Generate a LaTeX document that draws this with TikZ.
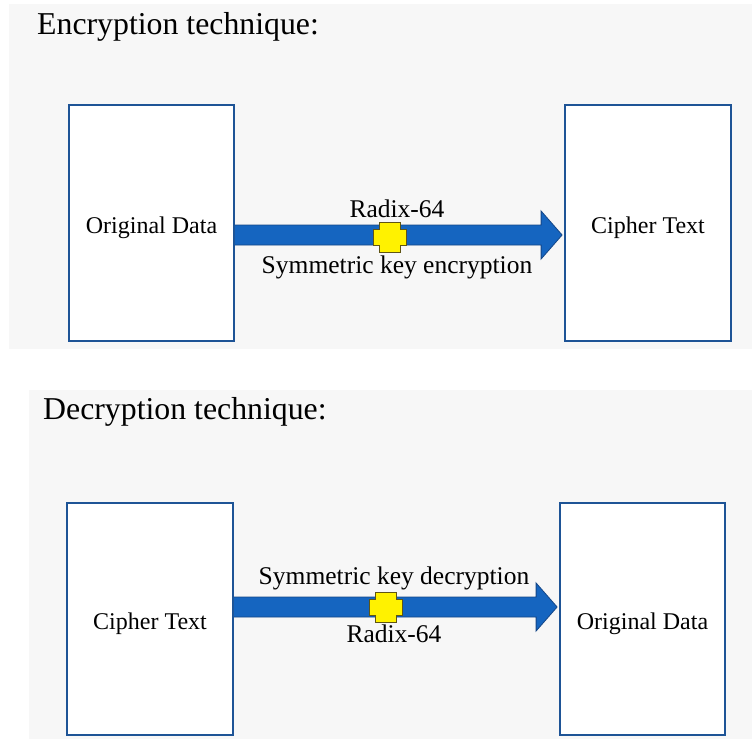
\documentclass[tikz,border=0pt]{standalone}
\usepackage{fontspec}
\setmainfont{Liberation Serif}
\definecolor{panelbg}{RGB}{247,247,247}
\definecolor{boxline}{RGB}{30,84,150}
\definecolor{arrowfill}{RGB}{21,101,192}
\definecolor{arrowedge}{RGB}{20,70,135}
\definecolor{plusedge}{RGB}{95,85,20}
\begin{document}
\begin{tikzpicture}[x=1pt,y=-1pt,
  databox/.style={draw=boxline,line width=1.8pt,fill=white,inner sep=0pt,
    text height=24pt,text depth=3pt,font=\fontsize{24}{28}\selectfont},
  title/.style={anchor=base west,inner sep=0pt,font=\fontsize{31.8}{36}\selectfont},
  lab/.style={anchor=base,inner sep=0pt,font=\fontsize{25.5}{30}\selectfont},
  bigarrow/.style={fill=arrowfill,draw=arrowedge,line width=0.8pt,line join=miter},
  plus/.style={fill=yellow,draw=plusedge,line width=1pt}]
\useasboundingbox (0,0) rectangle (752,739);
% panels
\fill[panelbg] (9,4) rectangle (752,349);
\fill[panelbg] (29,390) rectangle (752,739);
% titles
\node[title] (t1) at (37,34) {Encryption technique:};
\node[title] (t2) at (43,419) {Decryption technique:};
% boxes
\node[databox,minimum width=165pt,minimum height=236pt] (b1) at (151.5,223) {Original Data};
\node[databox,minimum width=166pt,minimum height=236pt] (b2) at (648,223) {Cipher Text};
\node[databox,minimum width=166pt,minimum height=232pt] (b3) at (150,619) {Cipher Text};
\node[databox,minimum width=165pt,minimum height=232pt] (b4) at (642.5,619) {Original Data};
% arrow 1
\coordinate (a1s) at (b1.east |- 0,235);
\coordinate (a1t) at ([xshift=-2pt]b2.west |- 0,235);
\draw[bigarrow] ([yshift=-10pt]a1s) -- ([xshift=-21pt,yshift=-10pt]a1t) -- ([xshift=-21pt,yshift=-24pt]a1t)
  -- (a1t) -- ([xshift=-21pt,yshift=24pt]a1t) -- ([xshift=-21pt,yshift=10pt]a1t) -- ([yshift=10pt]a1s);
% arrow 2
\coordinate (a2s) at (b3.east |- 0,607);
\coordinate (a2t) at ([xshift=-2pt]b4.west |- 0,607);
\draw[bigarrow] ([yshift=-10pt]a2s) -- ([xshift=-21pt,yshift=-10pt]a2t) -- ([xshift=-21pt,yshift=-24pt]a2t)
  -- (a2t) -- ([xshift=-21pt,yshift=24pt]a2t) -- ([xshift=-21pt,yshift=10pt]a2t) -- ([yshift=10pt]a2s);
% plus signs
\coordinate (p1) at (390,237);
\coordinate (p2) at (386,607);
\foreach \p in {p1,p2}{
  \draw[plus] ([shift={(-10.5,-15)}]\p) -- ([shift={(10.5,-15)}]\p) -- ([shift={(10.5,-8)}]\p)
    -- ([shift={(16.5,-8)}]\p) -- ([shift={(16.5,8)}]\p) -- ([shift={(10.5,8)}]\p)
    -- ([shift={(10.5,15)}]\p) -- ([shift={(-10.5,15)}]\p) -- ([shift={(-10.5,8)}]\p)
    -- ([shift={(-16.5,8)}]\p) -- ([shift={(-16.5,-8)}]\p) -- ([shift={(-10.5,-8)}]\p) -- cycle;
}
% labels
\node[lab] (l1) at (397,217) {Radix-64};
\node[lab] (l2) at (397,273) {Symmetric key encryption};
\node[lab] (l3) at (394,584) {Symmetric key decryption};
\node[lab] (l4) at (394,642) {Radix-64};
\end{tikzpicture}
\end{document}
